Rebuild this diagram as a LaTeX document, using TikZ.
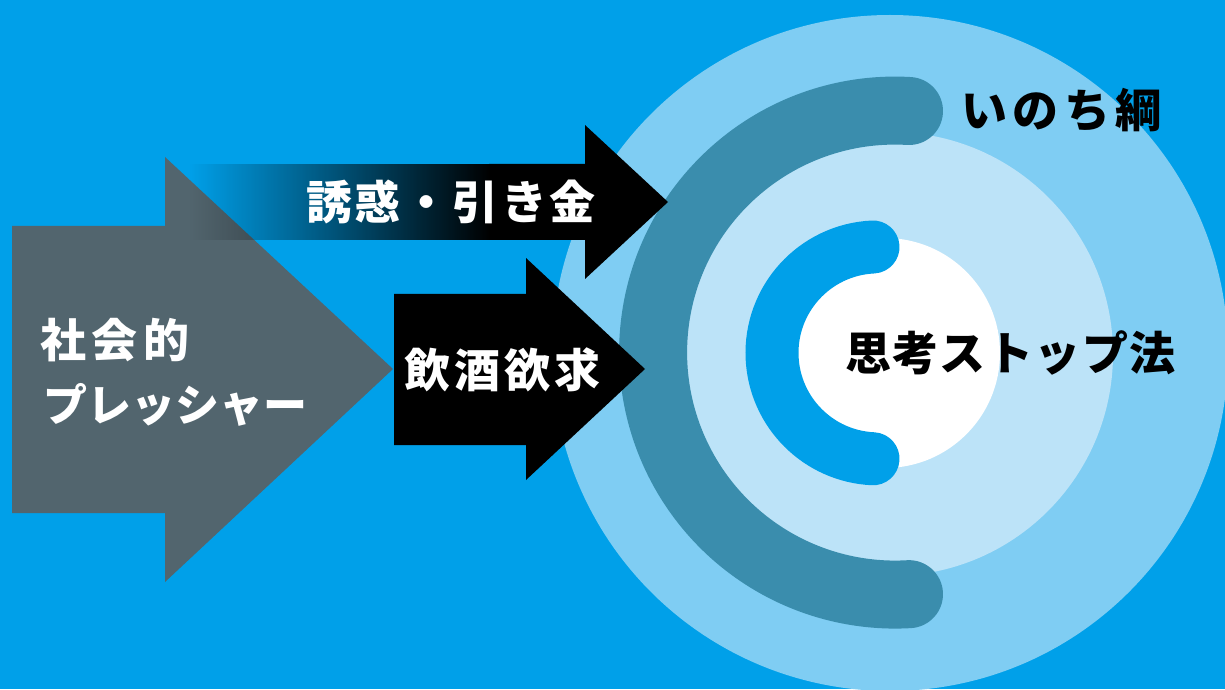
\documentclass[tikz,border=0pt]{standalone}
\usepackage{fontspec}
\newfontfamily\jp{Noto Sans CJK JP}
\usetikzlibrary{fadings}
\definecolor{bgblue}{HTML}{00A0E9}
\definecolor{outerblue}{HTML}{7FCDF3}
\definecolor{innerblue}{HTML}{BCE3F8}
\definecolor{darkteal}{HTML}{3A8DAD}
\definecolor{slate}{HTML}{52656E}
\tikzfading[name=fadein, left color=transparent!100, right color=transparent!0]
\newcommand{\trk}[1]{\addfontfeature{LetterSpace=#1}}
\tikzset{
  wlabel/.style={inner sep=0pt, anchor=west, text=white, font=\jp\bfseries\fontsize{46}{50}\selectfont},
  blabel/.style={inner sep=0pt, anchor=west, text=black, font=\jp\bfseries\fontsize{46}{50}\selectfont},
}
\begin{document}
\begin{tikzpicture}[x=1pt,y=1pt]
\useasboundingbox (0,0) rectangle (1225,689);
\clip (0,0) rectangle (1225,689);
\fill[bgblue] (0,0) rectangle (1225,689);
% circles
\fill[outerblue] (890,336) circle[radius=338];
\fill[innerblue] (891,335) circle[radius=222];
\draw[darkteal, line width=68pt, line cap=round] (909,578) arc[start angle=86.7, end angle=273.3, radius=242];
\fill[white] (885,336) circle[radius=115];
\draw[bgblue, line width=53pt, line cap=round] (873,442) arc[start angle=92.7, end angle=267.3, radius=106];
% grey arrow
\fill[slate] (12,463) -- (165,463) -- (165,532) -- (393,320) -- (165,107) -- (165,176) -- (12,176) -- cycle;
% temptation arrow
\fill[black, path fading=fadein] (190,449) rectangle (490,525);
\fill[black] (489,525) -- (585,525) -- (585,564) -- (668,487) -- (585,410) -- (585,449) -- (489,449) -- cycle;
% craving arrow
\fill[black] (394,395) -- (526,395) -- (526,431) -- (645,320) -- (526,209) -- (526,244) -- (394,244) -- cycle;
% texts
\node[wlabel] (social) at (40,349) {\trk{12}社会的};
\node[wlabel, font=\jp\bfseries\fontsize{44}{48}\selectfont] (pressure) at (43,284) {プレッシャー};
\node[wlabel] (trigger) at (306,487) {\trk{6}誘惑・引き金};
\node[wlabel] (craving) at (404,319) {\trk{9}飲酒欲求};
\node[blabel] (lifeline) at (961,579) {\trk{12}いのち綱};
\node[blabel] (stop) at (845,336) {\trk{3}思考ストップ法};
\end{tikzpicture}
\end{document}
